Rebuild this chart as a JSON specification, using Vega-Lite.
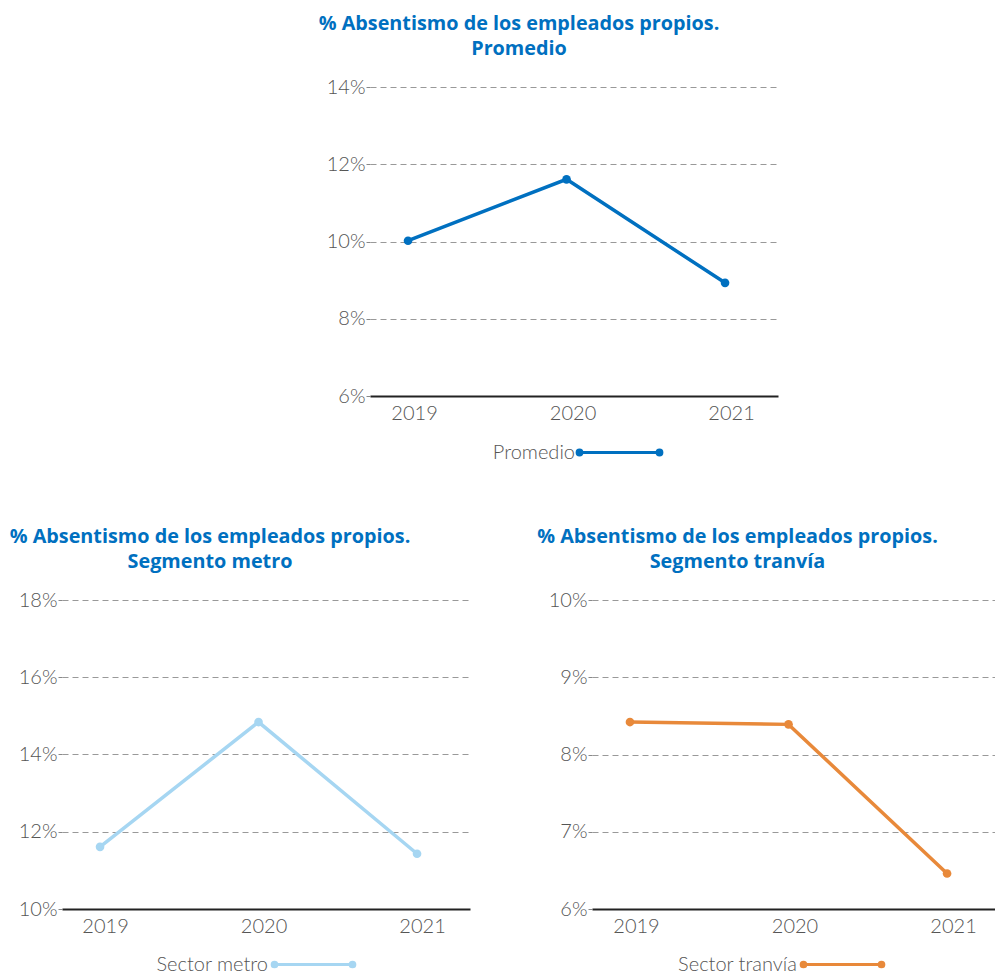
{
  "$schema": "https://vega.github.io/schema/vega-lite/v6.json",
  "padding": {"left": 0, "top": 14, "right": 0, "bottom": 0},
  "background": "white",
  "datasets": {
    "promedio": [
      {"year": "2019", "value": 0.1002, "serie": "Promedio"},
      {"year": "2020", "value": 0.1161, "serie": "Promedio"},
      {"year": "2021", "value": 0.0893, "serie": "Promedio"}
    ],
    "metro": [
      {"year": "2019", "value": 0.1161, "serie": "Sector metro"},
      {"year": "2020", "value": 0.1484, "serie": "Sector metro"},
      {"year": "2021", "value": 0.1143, "serie": "Sector metro"}
    ],
    "tranvia": [
      {"year": "2019", "value": 0.0842, "serie": "Sector tranvía"},
      {"year": "2020", "value": 0.0839, "serie": "Sector tranvía"},
      {"year": "2021", "value": 0.0646, "serie": "Sector tranvía"}
    ]
  },
  "config": {
    "view": {"stroke": null},
    "title": {"font": "Open Sans", "fontSize": 19.8, "fontWeight": "bold", "color": "#0070C0", "lineHeight": 25, "anchor": "middle", "offset": 18},
    "axis": {"labelFont": "Lato", "labelFontWeight": 300, "labelFontSize": 20, "labelColor": "#555555", "title": null},
    "legend": {"labelFont": "Lato", "labelFontWeight": 300, "labelFontSize": 20, "labelColor": "#555555"}
  },
  "spacing": 64,
  "resolve": {"scale": {"color": "independent", "x": "independent", "y": "independent"}, "legend": {"color": "independent"}},
  "vconcat": [
    {
      "width": 716,
      "height": 309,
      "title": {"text": ["% Absentismo de los empleados propios.", "Promedio"], "dx": 99},
      "data": {"name": "promedio"},
      "mark": {"type": "line", "strokeWidth": 3.5, "point": {"filled": true, "size": 75}},
      "encoding": {
        "x": {"field": "year", "type": "ordinal", "scale": {"type": "point", "range": [308, 716], "padding": 0.287, "align": 0.418},
          "axis": {"ticks": false, "domainColor": "#222222", "domainWidth": 2, "labelPadding": 7, "labelOffset": 6, "labelAngle": 0, "grid": false}},
        "y": {"field": "value", "type": "quantitative", "scale": {"domain": [0.06, 0.14], "nice": false, "zero": false},
          "axis": {"format": ".0%", "values": [0.06, 0.08, 0.10, 0.12, 0.14], "domain": false, "offset": -308, "tickSize": 4, "tickColor": "#888888", "labelPadding": 1, "gridDash": [6, 4], "gridColor": "#999999"}},
        "color": {"field": "serie", "type": "nominal", "scale": {"range": ["#0070C0"]},
          "legend": {"title": null, "orient": "none", "legendX": 516, "legendY": 324, "padding": 0,
            "symbolType": "M-1,0H1M-1.06,0a0.06,0.06 0 1,0 0.12,0a0.06,0.06 0 1,0 -0.12,0M0.94,0a0.06,0.06 0 1,0 0.12,0a0.06,0.06 0 1,0 -0.12,0",
            "symbolSize": 6400, "symbolStrokeWidth": 3, "labelAlign": "right", "labelOffset": -86,
            "encode": {"symbols": {"update": {"fill": {"value": "#0070C0"}, "stroke": {"value": "#0070C0"}}}}}}
      }
    },
    {
      "spacing": 62,
      "resolve": {"scale": {"color": "independent", "x": "independent", "y": "independent"}, "legend": {"color": "independent"}},
      "hconcat": [
        {
          "width": 408,
          "height": 309,
          "title": {"text": ["% Absentismo de los empleados propios.", "Segmento metro"], "dx": -56},
          "data": {"name": "metro"},
          "mark": {"type": "line", "strokeWidth": 3.5, "point": {"filled": true, "size": 75}},
          "encoding": {
            "x": {"field": "year", "type": "ordinal", "scale": {"type": "point", "padding": 0.287, "align": 0.418},
              "axis": {"ticks": false, "domainColor": "#222222", "domainWidth": 2, "labelPadding": 7, "labelOffset": 5, "labelAngle": 0, "grid": false}},
            "y": {"field": "value", "type": "quantitative", "scale": {"domain": [0.10, 0.18], "nice": false, "zero": false},
              "axis": {"format": ".0%", "values": [0.10, 0.12, 0.14, 0.16, 0.18], "domain": false, "tickSize": 4, "tickColor": "#888888", "labelPadding": 1, "gridDash": [6, 4], "gridColor": "#999999", "minExtent": 62}},
            "color": {"field": "serie", "type": "nominal", "scale": {"range": ["#A6D6F2"]},
              "legend": {"title": null, "orient": "none", "legendX": 211, "legendY": 324, "padding": 0,
                "symbolType": "M-1,0H1M-1.06,0a0.06,0.06 0 1,0 0.12,0a0.06,0.06 0 1,0 -0.12,0M0.94,0a0.06,0.06 0 1,0 0.12,0a0.06,0.06 0 1,0 -0.12,0",
                "symbolSize": 6084, "symbolStrokeWidth": 3, "labelAlign": "right", "labelOffset": -86,
                "encode": {"symbols": {"update": {"fill": {"value": "#A6D6F2"}, "stroke": {"value": "#A6D6F2"}}}}}}
          }
        },
        {
          "width": 403,
          "height": 309,
          "title": {"text": ["% Absentismo de los empleados propios.", "Segmento tranvía"], "dx": -56},
          "data": {"name": "tranvia"},
          "mark": {"type": "line", "strokeWidth": 3.5, "point": {"filled": true, "size": 75}},
          "encoding": {
            "x": {"field": "year", "type": "ordinal", "scale": {"type": "point", "padding": 0.271, "align": 0.442},
              "axis": {"ticks": false, "domainColor": "#222222", "domainWidth": 2, "labelPadding": 7, "labelOffset": 6, "labelAngle": 0, "grid": false}},
            "y": {"field": "value", "type": "quantitative", "scale": {"domain": [0.06, 0.10], "nice": false, "zero": false},
              "axis": {"format": ".0%", "values": [0.06, 0.07, 0.08, 0.09, 0.10], "domain": false, "tickSize": 4, "tickColor": "#888888", "labelPadding": 1, "gridDash": [6, 4], "gridColor": "#999999", "minExtent": 60}},
            "color": {"field": "serie", "type": "nominal", "scale": {"range": ["#E8893A"]},
              "legend": {"title": null, "orient": "none", "legendX": 210, "legendY": 324, "padding": 0,
                "symbolType": "M-1,0H1M-1.06,0a0.06,0.06 0 1,0 0.12,0a0.06,0.06 0 1,0 -0.12,0M0.94,0a0.06,0.06 0 1,0 0.12,0a0.06,0.06 0 1,0 -0.12,0",
                "symbolSize": 6084, "symbolStrokeWidth": 3, "labelAlign": "right", "labelOffset": -86,
                "encode": {"symbols": {"update": {"fill": {"value": "#E8893A"}, "stroke": {"value": "#E8893A"}}}}}}
          }
        }
      ]
    }
  ]
}
